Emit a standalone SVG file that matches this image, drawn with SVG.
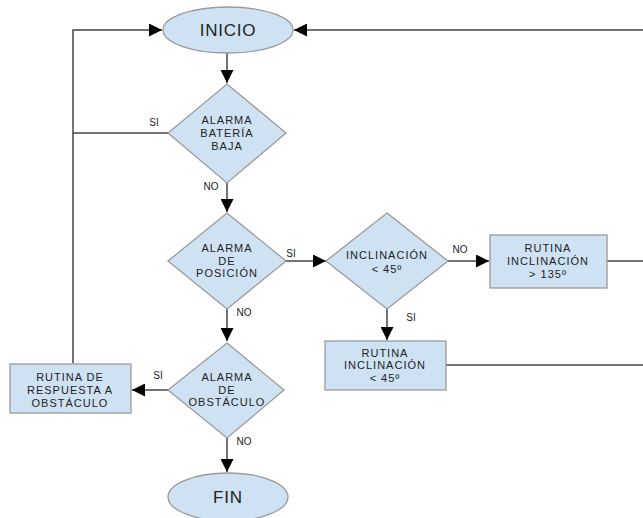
<svg xmlns="http://www.w3.org/2000/svg" width="643" height="518" viewBox="0 0 643 518">
<style>
.shape{fill:#cfe2f3;stroke:#9a9a9a;stroke-width:1.3}
.ln{fill:none;stroke:#444;stroke-width:1.5}
.t{font-family:"Liberation Sans",Arial,sans-serif;font-size:11px;fill:#222;text-anchor:middle;letter-spacing:1px}
.big{font-family:"Liberation Sans",Arial,sans-serif;font-size:17px;fill:#222;text-anchor:middle;letter-spacing:0.8px}
.lb{font-family:"Liberation Sans",Arial,sans-serif;font-size:10px;fill:#222;text-anchor:middle}
</style>
<defs>
<marker id="ah" viewBox="0 0 10 10" refX="10" refY="5" markerWidth="16" markerHeight="13" markerUnits="userSpaceOnUse" orient="auto">
<path d="M0,0 L10,5 L0,10 Z" fill="#000"/>
</marker>
</defs>
<rect width="643" height="518" fill="#fff"/>
<g id="connectors">
<path class="ln" d="M73,363 V30 H162" marker-end="url(#ah)"/>
<path class="ln" d="M168,133 H73"/>
<path class="ln" d="M643,30 H294" marker-end="url(#ah)"/>
<path class="ln" d="M227,53 V83" marker-end="url(#ah)"/>
<path class="ln" d="M227,183 V212" marker-end="url(#ah)"/>
<path class="ln" d="M286,261 H326" marker-end="url(#ah)"/>
<path class="ln" d="M448,261 H489" marker-end="url(#ah)"/>
<path class="ln" d="M607,261 H643"/>
<path class="ln" d="M387,309 V340" marker-end="url(#ah)"/>
<path class="ln" d="M446,365 H643"/>
<path class="ln" d="M227,309 V341" marker-end="url(#ah)"/>
<path class="ln" d="M168,390 H132" marker-end="url(#ah)"/>
<path class="ln" d="M227,438 V472" marker-end="url(#ah)"/>
<text class="lb" x="154" y="126">SI</text>
<text class="lb" x="211" y="190">NO</text>
<text class="lb" x="291" y="257">SI</text>
<text class="lb" x="460" y="253">NO</text>
<text class="lb" x="411" y="321">SI</text>
<text class="lb" x="244" y="316">NO</text>
<text class="lb" x="158" y="379">SI</text>
<text class="lb" x="244" y="445">NO</text>
</g>
<g id="inicio">
<ellipse class="shape" cx="228" cy="30" rx="65" ry="23"/>
<text class="big" x="228" y="36">INICIO</text>
</g>
<g id="bateria">
<polygon class="shape" points="227,84 286,133 227,183 168,133"/>
<text class="t" x="227" y="124">ALARMA</text>
<text class="t" x="227" y="137">BATERÍA</text>
<text class="t" x="227" y="150">BAJA</text>
</g>
<g id="posicion">
<polygon class="shape" points="227,213 286,261 227,309 168,261"/>
<text class="t" x="227" y="252">ALARMA</text>
<text class="t" x="227" y="265">DE</text>
<text class="t" x="227" y="277">POSICIÓN</text>
</g>
<g id="inclinacion">
<polygon class="shape" points="387,213 448,261 387,309 326,261"/>
<text class="t" x="387" y="259">INCLINACIÓN</text>
<text class="t" x="387" y="273">&lt; 45º</text>
</g>
<g id="rutina135">
<rect class="shape" x="490" y="235" width="117" height="53"/>
<text class="t" x="548" y="252">RUTINA</text>
<text class="t" x="548" y="265">INCLINACIÓN</text>
<text class="t" x="548" y="278">&gt; 135º</text>
</g>
<g id="rutina45">
<rect class="shape" x="325" y="341" width="121" height="49"/>
<text class="t" x="385" y="357">RUTINA</text>
<text class="t" x="385" y="369">INCLINACIÓN</text>
<text class="t" x="385" y="382">&lt; 45º</text>
</g>
<g id="obstaculo">
<polygon class="shape" points="227,343 284,390 227,438 168,390"/>
<text class="t" x="227" y="381">ALARMA</text>
<text class="t" x="227" y="394">DE</text>
<text class="t" x="227" y="406">OBSTÁCULO</text>
</g>
<g id="respuesta">
<rect class="shape" x="10" y="364" width="121" height="49"/>
<text class="t" x="70" y="381">RUTINA DE</text>
<text class="t" x="70" y="394">RESPUESTA A</text>
<text class="t" x="70" y="407">OBSTÁCULO</text>
</g>
<g id="fin">
<ellipse class="shape" cx="228" cy="497" rx="60" ry="24"/>
<text class="big" x="228" y="503">FIN</text>
</g>
</svg>
